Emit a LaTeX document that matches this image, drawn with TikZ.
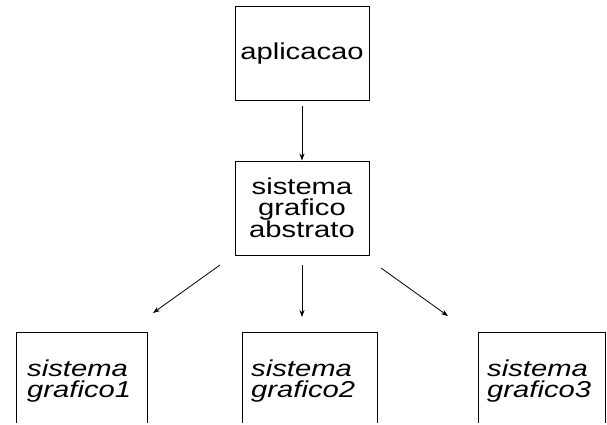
\documentclass[tikz,border=0pt]{standalone}
\usepackage{fontspec}
\setmainfont{Liberation Sans}[FakeStretch=1.27]
\usetikzlibrary{arrows.meta}
\begin{document}
\begin{tikzpicture}[x=1pt,y=-1pt,
  lbl/.style={font=\fontsize{23}{21}\selectfont, inner sep=0pt},
  box/.style={draw, line width=0.9pt, minimum width=134pt, minimum height=94pt, inner sep=0pt, align=center, lbl},
  openbox/.style={minimum height=90pt, inner sep=0pt},
  edge/.style={line width=0.9pt},
  arr/.style={line width=0.8pt, -{Stealth[length=7pt,width=5pt]}},
  itlbl/.style={lbl, align=left, anchor=west, font=\fontsize{23}{21}\selectfont\itshape}]
\useasboundingbox (0,0) rectangle (607,425);

\node[box] (top) at (302,53.5) {\raisebox{-2.5pt}{aplicacao}};
\node[box] (mid) at (302,208) {sistema\\grafico\\abstrato};

\node[openbox, minimum width=130pt] (b1) at (82,378) {};
\node[openbox, minimum width=134pt] (b2) at (310,378) {};
\node[openbox, minimum width=126pt] (b3) at (542,378) {};

\draw[edge] (b1.south west) -- (b1.north west) -- (b1.north east) -- (b1.south east);
\draw[edge] (b2.south west) -- (b2.north west) -- (b2.north east) -- (b2.south east);
\draw[edge] (b3.south west) -- (b3.north west) -- (b3.north east) -- (b3.south east);

\node[itlbl] (t1) at (27,381) {sistema\\grafico1};
\node[itlbl] (t2) at (251,381) {sistema\\grafico2};
\node[itlbl] (t3) at (487,381) {sistema\\grafico3};

\draw[arr, shorten <=5pt] (top) -- (mid);

\coordinate (s1) at (220,265);
\coordinate (e1) at (153,313);
\coordinate (s2) at (302,265);
\coordinate (e2) at (302,317);
\coordinate (s3) at (381,268);
\coordinate (e3) at (448,316);
\draw[arr] (s1) -- (e1);
\draw[arr] (s2) -- (e2);
\draw[arr] (s3) -- (e3);
\end{tikzpicture}
\end{document}
